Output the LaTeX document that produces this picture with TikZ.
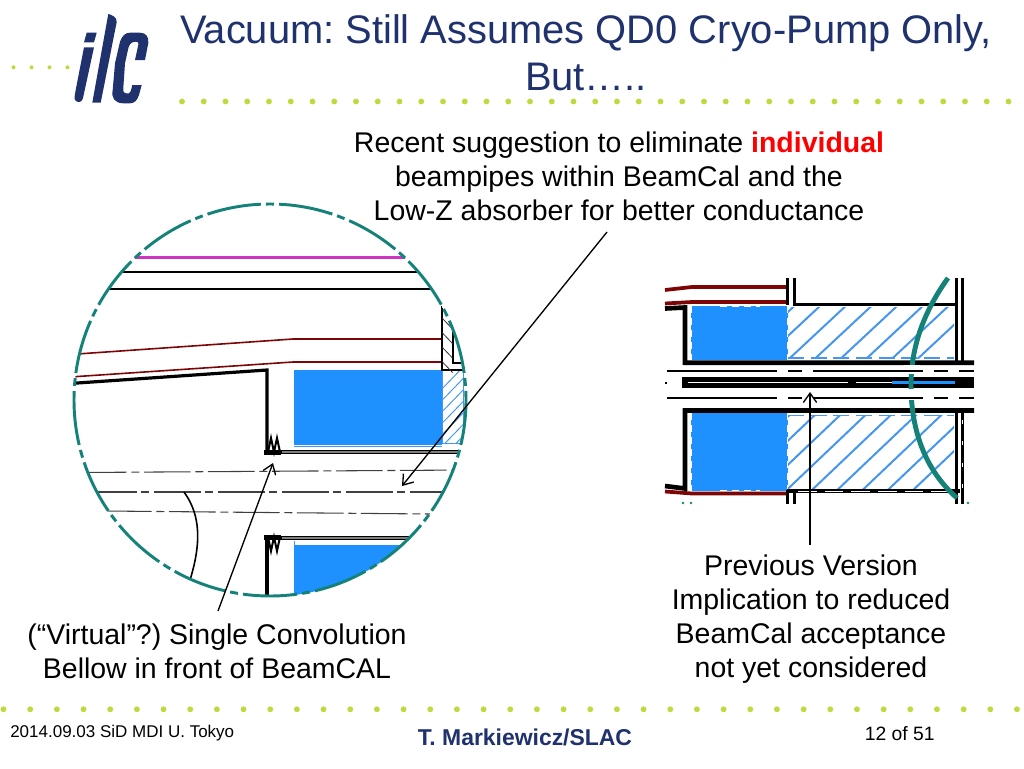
\documentclass[tikz,border=0pt]{standalone}
\usepackage{fontspec}
\setmainfont{Liberation Sans}
\usetikzlibrary{arrows.meta}
\frenchspacing
\definecolor{ilcblue}{RGB}{31,50,110}
\definecolor{dotgreen}{RGB}{190,218,60}
\definecolor{circteal}{RGB}{20,130,120}
\definecolor{dred}{RGB}{125,5,5}
\definecolor{bfill}{RGB}{30,145,255}
\definecolor{hatchb}{RGB}{70,150,240}
\definecolor{magline}{RGB}{210,50,195}
\tikzset{
 x=0.75pt,y=-0.75pt,
 txt/.style={align=center,inner sep=0pt,font=\fontsize{21.35}{25.6}\selectfont,text=black},
 titletxt/.style={align=center,inner sep=0pt,font=\fontsize{29.9}{35.5}\selectfont,text=ilcblue},
 foot/.style={inner sep=0pt,font=\fontsize{12.75}{15}\selectfont,text=black},
 dotm/.style={fill=dotgreen,draw=none},
 logo/.style={fill=ilcblue,draw=none},
 callout/.style={draw=black,line width=1pt,-{Straight Barb[length=7pt,width=10pt,line width=1pt]}},
 thk/.style={draw=black,line width=2.5pt},
 thkr/.style={draw=black,line width=3.5pt},
 red1/.style={draw=dred,line width=1.2pt},
 red2/.style={draw=dred,line width=2pt},
 redr/.style={draw=dred,line width=2.8pt},
 cl/.style={draw=black!75,line width=0.8pt,dash pattern=on 35pt off 3.5pt on 6pt off 3.5pt},
 bluebox/.style={fill=bfill,draw=none},
 hatchl/.style={draw=hatchb,line width=1.5pt},
 hatchs/.style={draw=hatchb,line width=0.7pt},
 pipedash/.style={draw=black,line width=1.3pt,dash pattern=on 82.5pt off 8.25pt on 10.5pt off 8.25pt},
 speck/.style={draw=white,line width=1pt,dash pattern=on 5pt off 4pt},
 bell/.style={draw=black,line width=1.5pt},
}
\begin{document}
\begin{tikzpicture}
\useasboundingbox (0,0) rectangle (1024,768);
\fill[white] (0,0) rectangle (1024,768);
% dots
\foreach \i in {0,...,38} \fill[dotm] (182+21.75*\i,101.5) circle (2.2pt);
\foreach \i in {0,...,6} \fill[dotm] (13.5+18*\i,67.3) circle (1.5pt);
\foreach \i in {0,...,38} \fill[dotm] (3.5+26.67*\i,709.3) circle (2.2pt);
% logo
\fill[logo] (86.7,32.7) -- (96.7,32.7) -- (94,42.3) -- (84,42.3) -- cycle;
\fill[logo] (84,47.3) -- (94,47.3) -- (83,98) .. controls (82,103) and (77,103) .. (75,100) .. controls (74,98) and (75,94) .. (75.5,91) -- cycle;
\fill[logo] (108.3,14) .. controls (112,15) and (117,17) .. (116.7,22) -- (100.7,102.7) -- (92.3,102.7) -- cycle;
\fill[logo] (115,63.3) -- (120,41.7) .. controls (122,36) and (125,32.7) .. (130,32.7) -- (140,32.7) .. controls (146,32.7) and (149,37) .. (148.3,43) -- (145,60) -- (135,60) -- (138.5,44) .. controls (139,42) and (137,41.5) .. (135,41.7) .. controls (131,42) and (129,45) .. (128.3,48.3) -- (125,63.3) -- (123.3,88) .. controls (123,92) and (124,93.3) .. (126,93.3) -- (129,93.3) .. controls (130,93.3) and (131,91) .. (132.3,85) -- (141.7,85) -- (139,95) .. controls (137,101) and (134,103.3) .. (130,103.3) -- (123,103.3) .. controls (115,103) and (111,98) .. (112.7,90) -- cycle;
% title
\node[titletxt] (title) at (586,53) {Vacuum: Still Assumes QD0 Cryo-Pump Only,\\But…..};
% text
\node[txt] (t1) at (619,176) {Recent suggestion to eliminate {\color{red}\bfseries individual}\\beampipes within BeamCal and the\\Low-Z absorber for better conductance};
\node[txt] (t2) at (217,651) {(“Virtual”?) Single Convolution\\Bellow in front of BeamCAL};
\node[txt] (t3) at (811,619) {Previous Version\\Implication to reduced\\BeamCal acceptance\\not yet considered};
\node[foot,anchor=west] (f1) at (10,733) {2014.09.03 SiD MDI U. Tokyo};
\node[inner sep=0pt,font=\fontsize{17.2}{20}\selectfont\bfseries,text=ilcblue] (f2) at (525,737) {T. Markiewicz/SLAC};
\node[inner sep=0pt,font=\fontsize{14.5}{17}\selectfont,anchor=east] (f3) at (935,734) {12 of 51};
% circle detail
\begin{scope}
\clip (270,400.5) circle (147pt);
\fill[bluebox] (294,370) rectangle (442,444.5);
\fill[bluebox] (294,545) rectangle (440,600);
\draw[hatchs] (294,446) -- (442,446);
\draw[hatchs] (294,541) -- (294,545);
\begin{scope}
\clip (442,370) rectangle (464,443);
\foreach \k in {0,...,8} \draw[hatchs] (436,395+11.5*\k) -- (470,360+11.5*\k);
\draw[draw=hatchb,line width=0.5pt] (442,370) rectangle (463,443);
\end{scope}
\draw[draw=magline,line width=1.6pt] (100,257.5) -- (440,257.5);
\draw[draw=black,line width=2pt] (100,272) -- (440,272);
\draw[draw=black,line width=1.5pt] (100,289) -- (440,289);
\draw[red1] (70,354.5) -- (293,339);
\draw[red2] (293,339) -- (442,339);
\draw[red1] (70,377) -- (293,362);
\draw[red2] (293,362) -- (442,362);
\draw[draw=black,line width=2.4pt] (70,383.5) -- (267,370) -- (267,453);
\draw[draw=black,line width=3pt] (266.5,536) -- (266.5,600);
% flange
\draw[draw=black,line width=1.4pt] (441.7,306) -- (441.7,370) -- (464,370) -- (464,363) -- (452.7,363) -- (452.7,332);
\foreach \k in {0,...,3} \draw[draw=black!80,line width=0.6pt] (442,\k*14.5+318) -- (452.5,\k*14.5+329);
% bellows
\fill[black] (264,450) rectangle (281,454.5);
\draw[bell] (268,452) -- (271,438) -- (274,452) -- (277,438) -- (280,452);
\fill[black] (264,535) rectangle (281,540);
\draw[bell] (268,537) -- (271,551) -- (274,537) -- (277,551) -- (280,537);
\draw[draw=black,line width=0.7pt,fill=black!50] (281,450) rectangle (466,453.5);
\draw[draw=black,line width=0.7pt,fill=black!50] (281,536) rectangle (420,539.5);
% center lines
\draw[cl] (80,472.5) -- (466,470);
\draw[cl] (90,492) -- (450,492);
\draw[cl] (105,511) -- (430,514);
% curve
\draw[draw=black,line width=1.2pt] (184,492) .. controls (197,510) and (204,535) .. (190,580);
\end{scope}
\draw[draw=circteal,line width=2.2pt,dash pattern=on 6pt off 3.75pt on 40.83pt off 3.75pt,dash phase=3pt] (270,204) arc[start angle=90,end angle=-270,radius=147pt];
% right drawing
\fill[bluebox] (691,306) rectangle (788,360);
\fill[bluebox] (691,413) rectangle (788,491);
\draw[speck] (691,306) -- (691,360);
\draw[speck] (788,306) -- (788,360);
\draw[speck] (720,306.5) -- (760,306.5);
\draw[speck] (691,413) -- (691,491);
\draw[speck] (788,413) -- (788,491);
\draw[speck] (720,490.5) -- (760,490.5);
\begin{scope}
\clip (788,307) rectangle (954,358);
\foreach \k in {-3,...,6} \draw[hatchl] (820+25.7*\k,306) -- (820+25.7*\k-60,362);
\end{scope}
\begin{scope}
\clip (788,415) rectangle (954,488);
\foreach \k in {-3,...,7} \draw[hatchl] (817+25.3*\k,413) -- (817+25.3*\k-82,491);
\end{scope}
\draw[draw=hatchb,line width=1.3pt,dash pattern=on 12pt off 5pt] (788,358) -- (954,358);
\draw[draw=hatchb,line width=1.3pt,dash pattern=on 12pt off 5pt] (788,415.5) -- (954,415.5);
% dark red
\draw[redr] (665,290) -- (692,287) -- (787,287);
\draw[redr] (665,303.5) -- (692,302) -- (787,302);
\draw[redr] (665,491.5) -- (692,493.5) -- (787,493.5);
% black box outlines
\draw[thkr] (665,308.5) -- (685,307.5) -- (685,362.7) -- (974,362.7);
\draw[thkr] (974,410.5) -- (685,410.5) -- (685,488.5) -- (665,486);
\draw[thk] (787.5,278) -- (787.5,305);
\draw[thk] (794.5,278) -- (794.5,304.5) -- (956.5,304.5);
\draw[thk] (956.5,278) -- (956.5,362);
\draw[thk] (962.5,278) -- (962.5,362);
\draw[thkr] (787,491) -- (960,491);
\draw[draw=white,line width=0.6pt,dash pattern=on 14pt off 6pt] (798,491) -- (950,491);
\draw[thk] (787.5,490) -- (787.5,504);
\draw[thk] (794.5,490) -- (794.5,504);
\draw[thk] (956.5,412) -- (956.5,504);
\draw[thk] (962.5,412) -- (962.5,504);
\draw[draw=white,line width=1pt,dash pattern=on 3pt off 13pt] (962.5,420) -- (962.5,504);
% central pipe
\fill[black] (682,377) rectangle (974,388);
\draw[draw=white,line width=0.9pt,dash pattern=on 120pt off 6pt] (688,382.5) -- (892,382.5);
\fill[bfill] (892,381) rectangle (955,384);
\fill[black] (665,382) rectangle (667,383.5);
% teal arc
\draw[draw=circteal,line width=3.7pt] (948,278) .. controls (925,310) and (911,345) .. (911,385) .. controls (911,430) and (925,470) .. (957,498);
\fill[white] (904,365) rectangle (920,374);
\fill[white] (904,389) rectangle (920,400);
\draw[pipedash] (667,371) -- (974,371);
\draw[pipedash] (667,398) -- (974,398);
% small specks
\foreach \xx in {683,691} \fill[circteal] (\xx,503) circle (1pt);
\fill[circteal] (968,503) circle (1pt);
% connectors
\coordinate (a1s) at (607,232);
\coordinate (a1e) at (402,486);
\coordinate (a2s) at (218,611);
\coordinate (a2e) at (273,463);
\coordinate (a3s) at (810,545);
\coordinate (a3e) at (810,392);
\draw[callout] (a1s) -- (a1e);
\draw[callout] (a2s) -- (a2e);
\draw[callout] (a3s) -- (a3e);
\end{tikzpicture}
\end{document}
